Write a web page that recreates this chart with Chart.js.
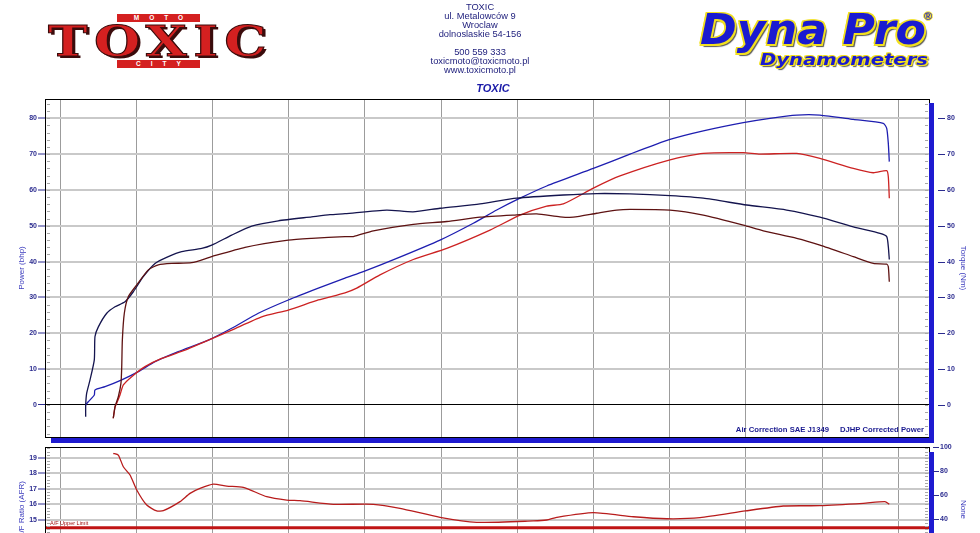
<!DOCTYPE html>
<html><head><meta charset="utf-8">
<script src="https://cdn.jsdelivr.net/npm/chart.js@4.4.1/dist/chart.umd.min.js"></script>
<style>
html,body{margin:0;padding:0;background:#fff;width:980px;height:533px;overflow:hidden;font-family:"Liberation Sans",Arial,sans-serif}
.abs{position:absolute;white-space:pre}
#w1{position:absolute;left:0;top:0;width:980px;height:460px}
#w2{position:absolute;left:0;top:431px;width:980px;height:160px}
.hdr{position:absolute;left:380px;top:3px;width:200px;text-align:center;color:#22227e;font-size:9.3px;line-height:9px}
.banner{position:absolute;left:117px;width:83px;height:8px;background:#d42020;color:#fff;font:bold 6.5px "Liberation Sans",Arial;line-height:8px;text-align:center;letter-spacing:10px;text-indent:10px}
.fit{transform-origin:0 0;display:inline-block}
</style></head><body>
<div id="w1"><canvas id="c1" width="980" height="460"></canvas></div>
<div id="w2"><canvas id="c2" width="980" height="160"></canvas></div>

<!-- left logo -->
<div class="abs" style="left:48px;top:21px;line-height:42px"><span id="toxicLogo" class="fit" style="font:bold 42px 'DejaVu Serif',serif;line-height:42px;color:#d42020;-webkit-text-stroke:1px #3a0c0c;text-shadow:2px 2px 0 #3a0c0c;letter-spacing:5px">TOXIC</span></div>
<div class="banner" style="top:14px">MOTO</div>
<div class="banner" style="top:60px">CITY</div>

<!-- center header -->
<div class="hdr">TOXIC<br>ul. Metalowców 9<br>Wroclaw<br>dolnoslaskie 54-156<br><br>500 559 333<br>toxicmoto@toxicmoto.pl<br>www.toxicmoto.pl</div>
<div class="abs" style="left:443px;top:82px;width:100px;text-align:center;font:italic bold 11px 'Liberation Sans',Arial;color:#1a1aa8">TOXIC</div>

<!-- right logo -->
<div class="abs" style="left:700px;top:4px"><span id="dynaLogo" class="fit" style="font:italic bold 43px 'DejaVu Sans',sans-serif;color:#1a1ad0;text-shadow:1.5px 0 0 #f2e020,-1.5px 0 0 #f2e020,0 1.5px 0 #f2e020,0 -1.5px 0 #f2e020,1.5px 1.5px 0 #f2e020,-1.5px -1.5px 0 #f2e020,1.5px -1.5px 0 #f2e020,-1.5px 1.5px 0 #f2e020,2.5px 2.5px 1px #555">Dyna Pro</span></div>
<div class="abs" style="left:924px;top:10px;font:bold 11px 'Liberation Sans',Arial;color:#1a1ad0;text-shadow:1px 0 0 #f2e020,-1px 0 0 #f2e020,0 1px 0 #f2e020,0 -1px 0 #f2e020">®</div>
<div class="abs" style="left:760px;top:51px"><span id="dynaSub" class="fit" style="font:italic bold 15px 'DejaVu Sans',sans-serif;color:#1a1ad0;text-shadow:1px 0 0 #f2e020,-1px 0 0 #f2e020,0 1px 0 #f2e020,0 -1px 0 #f2e020,1px 1px 0 #f2e020,-1px -1px 0 #f2e020,1.5px 1.5px 1px #555">Dynamometers</span></div>

<!-- chart notes -->
<div class="abs" style="right:56px;top:425px;font:bold 7.7px 'Liberation Sans',Arial;color:#1a1a90;z-index:5">Air Correction SAE J1349<span style="margin-left:11px">DJHP Corrected Power</span></div>
<div class="abs" style="left:50px;top:520px;font:5.5px 'Liberation Sans',Arial;color:#a01010;z-index:5">A/F Upper Limit</div>

<script>
// ---------------- data ----------------
const rpmGrid = [1000,2000,3000,4000,5000,6000,7000,8000,9000,10000,11000,12000];
const powerTicks = [0,10,20,30,40,50,60,70,80];
const torqueTicks = [0,10,20,30,40,50,60,70,80];
const afrTicks = [15,16,17,18,19];
const noneTicks = [40,60,80,100];

const bluePowerRpm = [1337,1371,1450,1459,1591,1810,2028,2247,2552,2946,3253,3602,3996,4390,4740,4980,5419,5987,6424,6731,7037,7387,7999,8480,9005,9442,9967,10317,10668,10973,11411,11804,11849,11870,11883];
const bluePowerHp = [0,0.9,2.8,4.2,5.1,7.0,9.3,12.1,14.9,18.1,21.4,25.6,29.3,32.6,35.4,37.2,40.9,46.0,50.7,54.4,57.7,61.1,66.0,70.0,74.1,76.5,78.8,80.0,80.9,80.9,79.7,78.6,77.2,73.0,67.9];

const redPowerRpm = [1699,1722,1744,1787,1831,1941,2115,2335,2640,2903,3253,3647,3996,4390,4740,4894,5199,5636,6075,6643,7037,7387,7605,7999,8349,9005,9442,9967,10186,10668,10973,11411,11673,11849,11870,11883];
const redPowerHp = [-3.7,-0.5,0.5,2.8,5.6,7.9,10.7,13.0,15.3,17.7,20.9,24.6,26.5,29.3,31.3,32.6,36.3,40.6,43.7,48.8,53.0,55.5,56.1,60.5,63.9,68.4,70.2,70.4,70.0,70.2,68.8,66.0,64.8,65.4,63.7,57.7];

const blueTorqueRpm = [1337,1337,1350,1394,1450,1459,1503,1613,1722,1853,1962,2093,2247,2421,2597,2860,2991,3253,3516,3865,4303,4543,4740,5287,5632,5987,6512,6993,7605,8043,8480,9005,9442,10012,10536,10973,11411,11761,11849,11870,11883];
const blueTorqueNm = [-3.3,0,3.3,7.0,12.6,19.1,21.8,25.6,27.4,28.8,31.6,35.8,39.5,41.4,42.8,43.7,44.6,47.4,49.9,51.4,52.5,53.1,53.4,54.4,53.9,54.9,56.1,57.7,58.6,59.0,58.9,58.4,57.7,55.8,54.4,52.4,49.7,47.9,47.0,44.2,40.6];

const redTorqueRpm = [1699,1722,1765,1800,1810,1818,1844,1896,2007,2159,2290,2466,2728,2991,3428,3996,4303,4740,4849,5112,5636,6075,6512,6949,7256,7562,7736,8043,8306,8480,9005,9442,9967,10230,10668,10973,11411,11673,11849,11870,11883];
const redTorqueNm = [-3.7,-0.5,2.3,6.1,10.7,18.1,25.6,30.2,33.5,37.7,39.1,39.5,39.7,41.4,44.0,46.0,46.5,47.0,47.0,48.6,50.4,51.2,52.4,53.0,53.3,52.5,52.4,53.5,54.4,54.6,54.4,53.0,50.2,48.6,46.5,44.6,41.4,39.5,39.3,38.6,34.4];

const afrRpm = [1699,1765,1831,1919,2007,2138,2269,2356,2575,2706,2837,3012,3188,3405,3713,3975,4150,4587,5112,5462,5987,6468,7211,7387,7518,7999,8524,8962,9399,9993,10492,10973,11542,11826,11883];
const afrVal = [19.28,19.17,18.42,17.89,16.93,15.96,15.58,15.60,16.18,16.71,17.03,17.31,17.18,17.10,16.50,16.28,16.24,16.01,16.01,15.75,15.17,14.85,14.94,15.0,15.17,15.47,15.21,15.08,15.15,15.58,15.90,15.92,16.07,16.18,16.01];

const afrLimitRpm = [803,12404];
const afrLimitVal = [14.5,14.5];

// ---------------- helpers ----------------
const pts = (xs, ys) => xs.map((x, i) => ({x, y: ys[i]}));
const FONT = "'Liberation Sans', Arial, sans-serif";
const NAVY = '#2b2b8f';
const TITLE = '#3b3bbd';
const BLUEBAR = '#1e1ad0';
const setTicks = arr => s => { s.ticks = arr.map(v => ({value: v})); };

const decor = {
  id: 'decor',
  afterDraw(chart, args, o) {
    const {ctx, chartArea: a} = chart;
    const line = (x1, y1, x2, y2) => { ctx.beginPath(); ctx.moveTo(x1, y1); ctx.lineTo(x2, y2); ctx.stroke(); };
    ctx.save();
    const yl = chart.scales.yL;
    ctx.strokeStyle = '#a8a8a8'; ctx.lineWidth = 1;
    const n0 = Math.ceil(yl.min / o.minor), n1 = Math.floor(yl.max / o.minor);
    for (let n = n0; n <= n1; n++) {
      const y = Math.round(yl.getPixelForValue(n * o.minor)) + 0.5;
      line(a.left + 2, y, a.left + 5, y);
      line(a.right - 4, y, a.right - 1, y);
    }
    ctx.strokeStyle = '#000'; ctx.lineWidth = 1;
    ctx.strokeRect(Math.round(a.left) + 0.5, Math.round(a.top) + 0.5, Math.round(a.right - a.left), Math.round(a.bottom - a.top));
    ctx.fillStyle = BLUEBAR;
    const r = Math.round(a.right);
    ctx.fillRect(r, Math.round(a.top) + o.barTop, 5, Math.round(a.bottom - a.top) - o.barTop + (o.bottomBar ? 6 : 80));
    if (o.bottomBar) ctx.fillRect(Math.round(a.left) + 6, Math.round(a.bottom) + 1, r + 5 - Math.round(a.left) - 6, 5);
    const yr = chart.scales.yR;
    ctx.strokeStyle = NAVY;
    yr.ticks.forEach(t => {
      const y = Math.round(yr.getPixelForValue(t.value)) + 0.5;
      line(r + o.dash[0], y, r + o.dash[1], y);
    });
    ctx.restore();
  }
};

function xScale() {
  return {
    type: 'linear', min: 803, max: 12404,
    afterBuildTicks: setTicks(rpmGrid),
    afterFit: s => { s.height = 0; },
    ticks: {display: false},
    border: {display: false},
    grid: {color: '#9c9c9c', lineWidth: 1, drawTicks: false}
  };
}
function yLeft(min, max, ticks, title, zeroBlack) {
  return {
    position: 'left', type: 'linear', min, max,
    afterBuildTicks: setTicks(ticks),
    afterFit: s => { s.width = 28; },
    border: {display: false},
    grid: {
      color: c => (zeroBlack && c.tick && c.tick.value === 0) ? '#000' : '#c9c9c9',
      lineWidth: c => (zeroBlack && c.tick && c.tick.value === 0) ? 1 : 2,
      tickColor: NAVY, tickLength: 7, tickWidth: 1
    },
    ticks: {color: NAVY, font: {family: FONT, size: 7, weight: 'bold'}, padding: 1},
    title: {display: true, text: title, color: TITLE, font: {family: FONT, size: 8}, padding: {top: 0, bottom: 0}}
  };
}
function yRight(min, max, ticks, title, pad) {
  return {
    position: 'right', type: 'linear', min, max,
    afterBuildTicks: setTicks(ticks),
    afterFit: s => { s.width = 39; },
    border: {display: false},
    grid: {drawOnChartArea: false, drawTicks: false},
    ticks: {color: NAVY, font: {family: FONT, size: 7, weight: 'bold'}, padding: pad},
    title: {display: true, text: title, color: TITLE, font: {family: FONT, size: 8}, padding: {top: 0, bottom: 0}}
  };
}
const lineDs = (label, data, color, width, axis) => ({
  label, data, borderColor: color, backgroundColor: color, borderWidth: width,
  pointRadius: 0, tension: 0.2, fill: false, yAxisID: axis || 'yL'
});

new Chart(document.getElementById('c1'), {
  type: 'line',
  data: {datasets: [
    lineDs('Torque run 2', pts(redTorqueRpm, redTorqueNm), '#5e1212', 1.3, 'yR'),
    lineDs('Torque run 1', pts(blueTorqueRpm, blueTorqueNm), '#14144e', 1.3, 'yR'),
    lineDs('Power run 2', pts(redPowerRpm, redPowerHp), '#cc2222', 1.3),
    lineDs('Power run 1', pts(bluePowerRpm, bluePowerHp), '#1e1eb0', 1.3)
  ]},
  options: {
    responsive: false, animation: false, devicePixelRatio: 1,
    layout: {padding: {top: 99, bottom: 23, left: 17, right: 12}},
    scales: {
      x: xScale(),
      yL: yLeft(-8.93, 85.38, powerTicks, 'Power (bhp)', true),
      yR: yRight(-8.93, 85.38, torqueTicks, 'Torque (Nm)', 18)
    },
    plugins: {legend: {display: false}, tooltip: {enabled: false},
      decor: {minor: 2, barTop: 4, bottomBar: true, dash: [9, 16]}}
  },
  plugins: [decor]
});

new Chart(document.getElementById('c2'), {
  type: 'line',
  data: {datasets: [
    lineDs('A/F Upper Limit', pts(afrLimitRpm, afrLimitVal), '#c01414', 3),
    lineDs('AFR', pts(afrRpm, afrVal), '#b81c1c', 1.3)
  ]},
  options: {
    responsive: false, animation: false, devicePixelRatio: 1,
    layout: {padding: {top: 16, bottom: 19, left: 17, right: 12}},
    scales: {
      x: xScale(),
      yL: yLeft(11.66, 19.69, afrTicks, 'A/F Ratio (AFR)', false),
      yR: yRight(-3.7, 100, noneTicks, 'None', 11)
    },
    plugins: {legend: {display: false}, tooltip: {enabled: false},
      decor: {minor: 0.2, barTop: 5, bottomBar: false, dash: [4, 10]}}
  },
  plugins: [decor]
});

function fitW(id, w) { const e = document.getElementById(id); const nw = e.getBoundingClientRect().width; e.style.transform = 'scaleX(' + (w / nw) + ')'; }
fitW('toxicLogo', 225);
fitW('dynaLogo', 226);
fitW('dynaSub', 168);
</script>
</body></html>
